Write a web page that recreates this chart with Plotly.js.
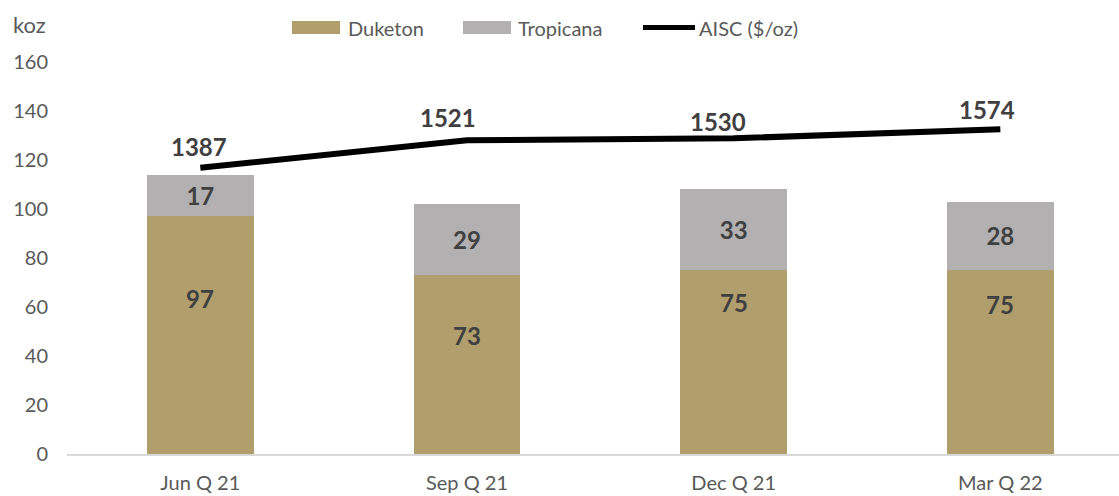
<!DOCTYPE html>
<html>
<head>
<meta charset="utf-8">
<script src="https://cdn.plot.ly/plotly-3.0.1.min.js"></script>
<style>html,body{margin:0;padding:0;background:#fff;}#chart{width:1119px;height:496px;}</style>
</head>
<body>
<div id="chart"></div>
<script>
const categories = ["Jun Q 21", "Sep Q 21", "Dec Q 21", "Mar Q 22"];
const duketon = [97, 73, 75, 75];
const tropicana = [17, 29, 33, 28];
const aisc = [1387, 1521, 1530, 1574];
const yTicks = [0, 20, 40, 60, 80, 100, 120, 140, 160];

const FONT = "Lato, 'Open Sans', sans-serif";
const GREY_TXT = "#595959";
const LABEL_TXT = "#404040";
const C_DUK = "#B09E6C";
const C_TRO = "#B2B0B1";
const LABEL_FONT = {family: FONT, size: 24, color: LABEL_TXT, weight: "bold"};

const traces = [
  {
    type: "bar", name: "Duketon", x: categories, y: duketon,
    marker: {color: C_DUK}, hoverinfo: "skip", width: 0.4
  },
  {
    type: "bar", name: "Tropicana", x: categories, y: tropicana,
    marker: {color: C_TRO},
    text: tropicana.map(String), textposition: "inside", insidetextanchor: "middle",
    textfont: LABEL_FONT, constraintext: "none", hoverinfo: "skip", width: 0.4
  },
  {
    type: "scatter", mode: "lines", name: "AISC ($/oz)", x: categories, y: aisc,
    yaxis: "y2", line: {color: "#000000", width: 6}, hoverinfo: "skip"
  }
];

const X0 = 67, X1 = 1119, Y0 = 454, Y1 = 61.5;
const px = v => (v - X0) / (X1 - X0);
const py = v => (Y0 - v) / (Y0 - Y1);

// label placement offsets (pixels), as positioned in the original chart
const duketonLabelDrop = [82, 60, 32, 34];
const aiscLabelShift = [[-1, 21], [-19, 23], [-16, 17], [-13, 20]];

const annotations = [
  {xref: "paper", yref: "paper", x: px(346), y: py(27), xanchor: "left", yanchor: "middle", text: "Duketon", showarrow: false, font: {family: FONT, size: 20, color: GREY_TXT}},
  {xref: "paper", yref: "paper", x: px(516), y: py(27), xanchor: "left", yanchor: "middle", text: "Tropicana", showarrow: false, font: {family: FONT, size: 20, color: GREY_TXT}},
  {xref: "paper", yref: "paper", x: px(697), y: py(27), xanchor: "left", yanchor: "middle", text: "AISC ($/oz)", showarrow: false, font: {family: FONT, size: 20, color: GREY_TXT}},
  {xref: "paper", yref: "paper", x: px(11), y: py(24), xanchor: "left", yanchor: "middle", text: "koz", showarrow: false, font: {family: FONT, size: 22, color: GREY_TXT}}
];
categories.forEach((c, i) => {
  annotations.push({x: c, y: duketon[i], xref: "x", yref: "y", yshift: -duketonLabelDrop[i],
    text: String(duketon[i]), showarrow: false, xanchor: "center", yanchor: "middle", font: LABEL_FONT});
  annotations.push({x: c, y: aisc[i], xref: "x", yref: "y2", xshift: aiscLabelShift[i][0], yshift: aiscLabelShift[i][1],
    text: String(aisc[i]), showarrow: false, xanchor: "center", yanchor: "middle", font: LABEL_FONT});
});

const layout = {
  width: 1119, height: 496,
  margin: {l: X0, r: 1119 - X1, t: Y1, b: 496 - Y0, pad: 0},
  paper_bgcolor: "#ffffff", plot_bgcolor: "#ffffff",
  barmode: "stack",
  showlegend: false,
  font: {family: FONT, size: 20, color: GREY_TXT},
  xaxis: {
    type: "category", range: [-0.5, 3.445], showgrid: false, zeroline: false,
    showline: true, linecolor: "#D9D9D9", linewidth: 1.5, ticks: "",
    tickfont: {family: FONT, size: 20, color: GREY_TXT}, ticklabelstandoff: 10,
    fixedrange: true
  },
  yaxis: {
    range: [0, 160], tickvals: yTicks, ticktext: yTicks.map(String),
    showgrid: false, zeroline: false, showline: false, ticks: "",
    tickfont: {family: FONT, size: 20, color: GREY_TXT}, ticklabelstandoff: 18,
    fixedrange: true
  },
  yaxis2: {overlaying: "y", range: [0, 1900], visible: false, fixedrange: true},
  shapes: [
    {type: "rect", xref: "paper", yref: "paper", x0: px(292), x1: px(340), y0: py(33.5), y1: py(20.5), fillcolor: C_DUK, line: {width: 0}},
    {type: "rect", xref: "paper", yref: "paper", x0: px(463), x1: px(511), y0: py(33.5), y1: py(20.5), fillcolor: C_TRO, line: {width: 0}},
    {type: "line", xref: "paper", yref: "paper", x0: px(643), x1: px(695), y0: py(27), y1: py(27), line: {color: "#000000", width: 5}}
  ],
  annotations: annotations
};

Plotly.newPlot("chart", traces, layout, {staticPlot: true, displayModeBar: false});
</script>
</body>
</html>
